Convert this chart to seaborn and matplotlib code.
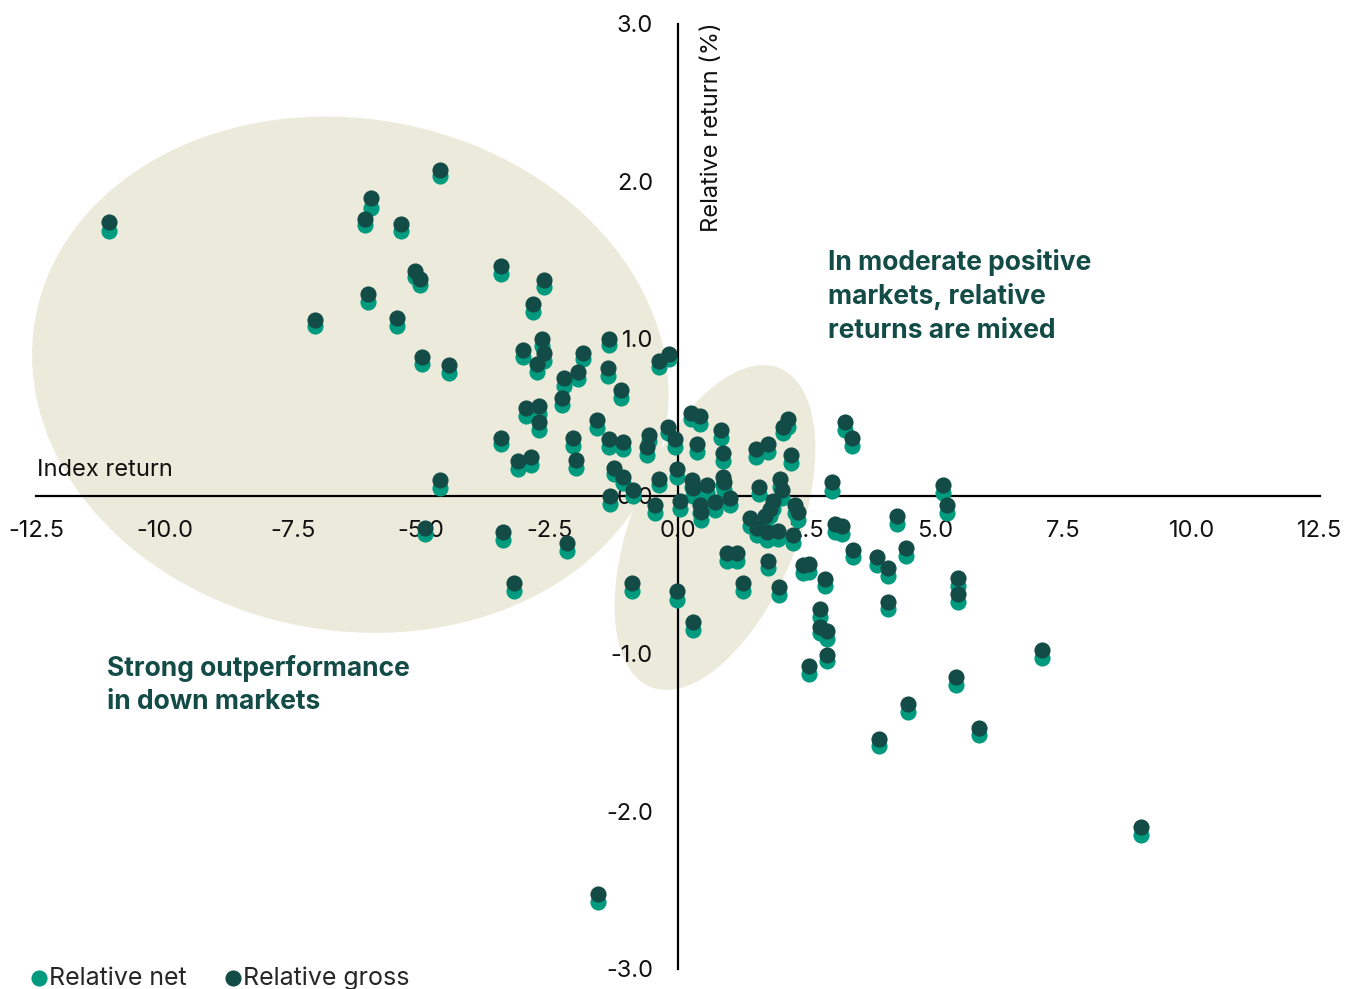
import numpy as np
import matplotlib
matplotlib.use('Agg')
import matplotlib.pyplot as plt
import seaborn as sns
from matplotlib.patches import Ellipse
from matplotlib.transforms import Affine2D

# index return (%) for each period, with relative returns (%) gross and net of fees
index_ret = [
    -11.08, -4.63, -5.98, -6.09, -5.39, -6.04, -7.07, -5.47, -5.12, -5.02,
    -4.98, -4.46, -3.45, -2.61, -2.82, -2.65, -3.02, -2.61, -2.75, -1.85,
    -1.34, -1.95, -2.22, -1.36, -1.11, -2.26, -0.37, -0.18, -2.96, -2.71,
    -2.71, -3.45, -2.04, -1.58, -1.34, -1.07, -0.56, -0.60, -0.19, -0.06,
    -3.12, -2.86, -1.99, -1.25, -1.07, -4.63, -0.37, -0.02, -1.32, -0.88,
    -0.45, 0.04, -3.41, -2.16, -4.93, -3.19, -1.56, -0.90, -0.02, 0.29,
    0.25, 0.43, 0.37, 0.84, 0.88, 1.52, 1.75, 2.04, 2.14, 2.20,
    3.25, 3.39, 0.27, 0.29, 0.56, 0.88, 0.90, 1.01, 0.72, 0.43,
    0.45, 1.58, 1.99, 2.02, 1.85, 1.79, 2.28, 2.34, 1.40, 1.54,
    1.69, 1.95, 1.73, 2.24, 0.95, 1.15, 1.75, 2.43, 2.55, 3.00,
    3.06, 3.19, 3.41, 1.27, 1.97, 2.86, 2.76, 2.76, 2.90, 2.90,
    2.55, 3.87, 4.09, 4.44, 4.26, 5.16, 5.24, 5.45, 5.45, 4.09,
    5.41, 4.48, 3.91, 5.86, 7.09, 9.01]

rel_gross = [
    1.74, 2.07, 1.89, 1.76, 1.73, 1.28, 1.12, 1.13, 1.43, 1.38,
    0.88, 0.83, 1.46, 1.37, 1.22, 1.00, 0.93, 0.91, 0.84, 0.91,
    1.00, 0.79, 0.75, 0.81, 0.67, 0.62, 0.86, 0.90, 0.56, 0.57,
    0.47, 0.37, 0.37, 0.48, 0.36, 0.34, 0.39, 0.31, 0.44, 0.36,
    0.22, 0.25, 0.23, 0.18, 0.12, 0.10, 0.11, 0.17, 0.00, 0.04,
    -0.06, -0.03, -0.23, -0.30, -0.20, -0.55, -2.53, -0.55, -0.60, -0.80,
    0.53, 0.51, 0.33, 0.42, 0.27, 0.30, 0.33, 0.44, 0.49, 0.26,
    0.47, 0.37, 0.10, 0.05, 0.07, 0.12, 0.09, -0.01, -0.04, -0.06,
    -0.10, 0.06, 0.11, 0.04, -0.03, -0.08, -0.06, -0.10, -0.14, -0.20,
    -0.13, -0.22, -0.23, -0.25, -0.36, -0.36, -0.41, -0.44, -0.43, 0.09,
    -0.18, -0.19, -0.34, -0.55, -0.58, -0.53, -0.72, -0.83, -0.86, -1.01,
    -1.08, -0.39, -0.46, -0.33, -0.13, 0.07, -0.06, -0.52, -0.62, -0.67,
    -1.15, -1.32, -1.54, -1.47, -0.98, -2.10]

rel_net = [
    1.68, 2.03, 1.83, 1.72, 1.68, 1.23, 1.08, 1.08, 1.39, 1.34,
    0.84, 0.78, 1.41, 1.33, 1.17, 0.95, 0.88, 0.86, 0.79, 0.87,
    0.96, 0.74, 0.70, 0.76, 0.62, 0.58, 0.82, 0.87, 0.51, 0.52,
    0.42, 0.33, 0.32, 0.43, 0.31, 0.30, 0.35, 0.26, 0.40, 0.31,
    0.17, 0.20, 0.18, 0.14, 0.08, 0.05, 0.07, 0.12, -0.05, 0.00,
    -0.11, -0.08, -0.28, -0.35, -0.24, -0.60, -2.58, -0.60, -0.66, -0.85,
    0.49, 0.46, 0.28, 0.37, 0.22, 0.25, 0.28, 0.40, 0.44, 0.21,
    0.42, 0.32, 0.06, 0.00, 0.02, 0.07, 0.04, -0.06, -0.09, -0.11,
    -0.15, 0.01, 0.06, -0.01, -0.08, -0.13, -0.11, -0.15, -0.19, -0.25,
    -0.18, -0.27, -0.28, -0.30, -0.41, -0.41, -0.46, -0.49, -0.48, 0.03,
    -0.23, -0.24, -0.39, -0.60, -0.63, -0.57, -0.77, -0.87, -0.91, -1.05,
    -1.13, -0.44, -0.51, -0.38, -0.18, 0.02, -0.11, -0.57, -0.67, -0.72,
    -1.20, -1.37, -1.59, -1.52, -1.03, -2.15]

x_ticks = [-12.5, -10.0, -7.5, -5.0, -2.5, 0.0, 2.5, 5.0, 7.5, 10.0, 12.5]
y_ticks = [-3.0, -2.0, -1.0, 0.0, 1.0, 2.0, 3.0]

net_col = '#009A7E'
gross_col = '#134B47'
blob_col = '#ECEBDB'

sns.set_theme(style='white')
plt.rcParams['font.family'] = ['Inter', 'DejaVu Sans']

fig = plt.figure(figsize=(13.6, 9.89), dpi=100)
ax = fig.add_axes([36 / 1360, 1 - 968.5 / 989, 1284 / 1360, 945 / 989])
ax.set_xlim(-12.5, 12.5)
ax.set_ylim(-3, 3)

# shaded regions, drawn in screen proportions so the tilt looks right
px_x = ax.bbox.width / 25
px_y = ax.bbox.height / 6


def blob(cx, cy, a, b, ang):
    tr = Affine2D().scale(1 / px_x, 1 / px_y).translate(cx, cy) + ax.transData
    ax.add_patch(Ellipse((0, 0), 2 * a, 2 * b, angle=ang, transform=tr,
                         fc=blob_col, ec='none', zorder=0, clip_on=False))


blob(-6.38, 0.77, 320, 256, -10)
blob(0.72, -0.20, 172, 83, 68)

sns.scatterplot(x=index_ret, y=rel_net, color=net_col, s=135, linewidth=0,
                ax=ax, label='Relative net', zorder=3)
sns.scatterplot(x=index_ret, y=rel_gross, color=gross_col, s=135, linewidth=0,
                ax=ax, label='Relative gross', zorder=4)
ax.set_xlim(-12.5, 12.5)
ax.set_ylim(-3, 3)

for s in ['top', 'right']:
    ax.spines[s].set_visible(False)
ax.spines['left'].set_position(('data', 0))
ax.spines['bottom'].set_position(('data', 0))
for s in ['left', 'bottom']:
    ax.spines[s].set_color('black')
    ax.spines[s].set_linewidth(1.6)
    ax.spines[s].set_zorder(2)

ax.set_xticks(x_ticks)
ax.set_xticklabels([f'{v:.1f}' for v in x_ticks])
ax.set_yticks(y_ticks)
ax.set_yticklabels([f'{v:.1f}' for v in y_ticks])
ax.tick_params(axis='both', length=0, labelsize=17, colors='#111111')
ax.tick_params(axis='x', pad=17)
ax.tick_params(axis='y', pad=18)

ax.text(0.66, 3.01, 'Relative return (%)', rotation=90, ha='center', va='top',
        fontsize=17, color='#111111')
ax.text(-12.48, 0.165, 'Index return', ha='left', va='center',
        fontsize=17, color='#111111')

ax.text(2.92, 1.57, 'In moderate positive\nmarkets, relative\nreturns are mixed',
        ha='left', va='top', fontsize=19, fontweight='bold', color=gross_col,
        linespacing=1.37)
ax.text(-11.12, -1.01, 'Strong outperformance\nin down markets',
        ha='left', va='top', fontsize=19, fontweight='bold', color=gross_col,
        linespacing=1.37)

handles, labels = ax.get_legend_handles_labels()
ax.get_legend().remove()
fig.legend(handles, labels, loc='lower left', bbox_to_anchor=(0.015, -0.011),
           ncol=2, frameon=False, fontsize=18, markerscale=1.0,
           handlelength=0.7, handletextpad=0.05, columnspacing=1.5,
           borderpad=0.2, borderaxespad=0.2)

plt.savefig('out.png', dpi=100)
